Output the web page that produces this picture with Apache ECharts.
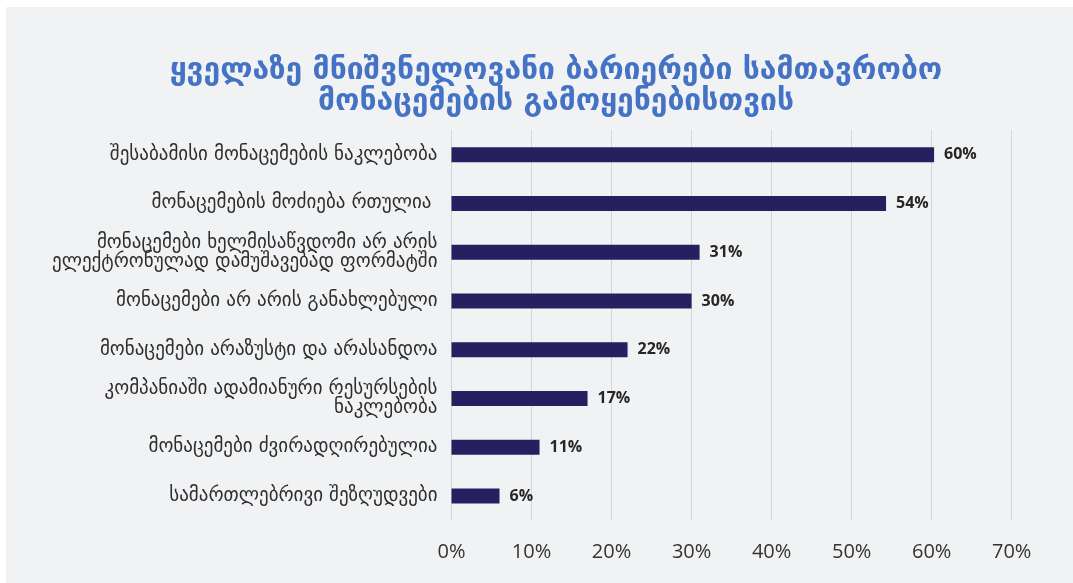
<!DOCTYPE html>
<html>
<head>
<meta charset="utf-8">
<script src="https://cdn.jsdelivr.net/npm/echarts@6/dist/echarts.min.js"></script>
<style>
html,body{margin:0;padding:0;background:#ffffff;}
#chart{position:absolute;left:6px;top:7px;width:1067px;height:576px;background:#F1F2F4;}
</style>
</head>
<body>
<div id="chart"></div>
<script>
const titleLines = ['ყველაზე მნიშვნელოვანი ბარიერები სამთავრობო', 'მონაცემების გამოყენებისთვის'];
const categories = [
  'შესაბამისი მონაცემების ნაკლებობა',
  'მონაცემების მოძიება რთულია ',
  'მონაცემები ხელმისაწვდომი არ არის\nელექტრონულად დამუშავებად ფორმატში',
  'მონაცემები არ არის განახლებული',
  'მონაცემები არაზუსტი და არასანდოა',
  'კომპანიაში ადამიანური რესურსების\nნაკლებობა',
  'მონაცემები ძვირადღირებულია',
  'სამართლებრივი შეზღუდვები'
];
const values = [60.3, 54.3, 31, 30, 22, 17, 11, 6];
const xTicks = [0, 10, 20, 30, 40, 50, 60, 70];

const chart = echarts.init(document.getElementById('chart'), null, {renderer: 'canvas'});
chart.setOption({
  backgroundColor: '#F1F2F4',
  animation: false,
  title: {
    text: titleLines.join('\n'),
    left: 545,
    textAlign: 'center',
    top: 44,
    textStyle: {
      color: '#4472C4',
      fontSize: 30,
      fontWeight: 'bold',
      lineHeight: 31,
      fontFamily: 'DejaVu Sans'
    }
  },
  grid: {left: 445.5, right: 61.3, top: 123.3, bottom: 62.6, containLabel: false},
  xAxis: {
    type: 'value',
    min: xTicks[0],
    max: xTicks[xTicks.length - 1],
    interval: 10,
    axisLine: {show: false},
    axisTick: {show: false},
    splitLine: {show: true, lineStyle: {color: '#D4D5D8', width: 1}},
    axisLabel: {
      formatter: v => v + '%',
      color: '#333333',
      fontSize: 20,
      fontFamily: 'Open Sans',
      margin: 22
    }
  },
  yAxis: {
    type: 'category',
    data: categories,
    inverse: true,
    axisLine: {show: false},
    axisTick: {show: false},
    axisLabel: {
      color: '#2E2E2E',
      fontSize: 19,
      lineHeight: 19,
      fontFamily: 'DejaVu Sans',
      margin: 14,
      align: 'right'
    }
  },
  series: [{
    type: 'bar',
    data: values,
    barWidth: 15,
    itemStyle: {color: '#252160'},
    label: {
      show: true,
      position: 'right',
      distance: 10,
      formatter: p => Math.round(p.value) + '%',
      color: '#262626',
      fontSize: 16,
      fontWeight: 'bold',
      fontFamily: 'Open Sans'
    }
  }]
});
</script>
</body>
</html>
